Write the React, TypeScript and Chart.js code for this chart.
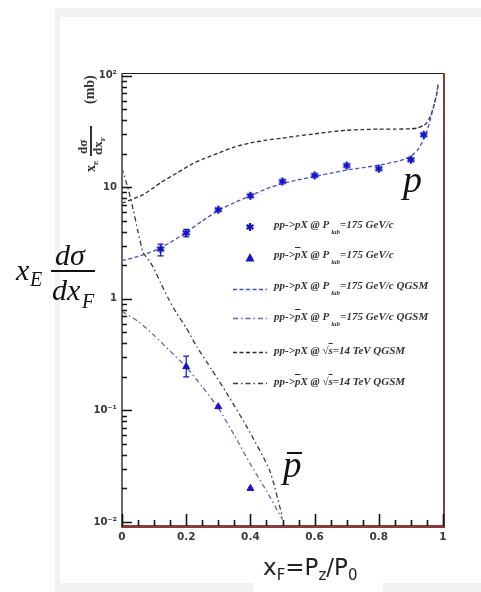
import React, { useEffect, useRef } from 'react';
import { Chart, registerables } from 'chart.js';

Chart.register(...registerables);

// ---------------- data ----------------
// pp -> pX @ Plab = 175 GeV/c (stars)
const starX = [0.12, 0.2, 0.3, 0.4, 0.5, 0.6, 0.7, 0.8, 0.9, 0.94];
const starY = [2.8, 3.9, 6.3, 8.4, 11.3, 12.8, 15.7, 14.7, 17.7, 29.6];
const starErrLo = [2.43, 3.6, null, null, null, null, null, null, null, null];
const starErrHi = [3.1, 4.2, null, null, null, null, null, null, null, null];

// pp -> pbar X @ Plab = 175 GeV/c (triangles)
const triX = [0.2, 0.3, 0.4];
const triY = [0.247, 0.108, 0.02];
const triErrLo = [0.2, null, null];
const triErrHi = [0.307, null, null];

// QGSM pp -> pX @ 175 GeV/c
const pQgsm175X = [0, 0.05, 0.1, 0.15, 0.2, 0.25, 0.3, 0.35, 0.4, 0.45, 0.5, 0.55, 0.6, 0.65, 0.7, 0.75, 0.8, 0.85, 0.88, 0.9, 0.92, 0.94, 0.95, 0.96, 0.97, 0.98, 0.985];
const pQgsm175Y = [2.2, 2.4, 2.7, 3.2, 3.95, 5.0, 6.2, 7.3, 8.4, 9.7, 10.8, 11.7, 12.5, 13.4, 14.3, 15.0, 15.8, 16.9, 17.9, 19.0, 21.5, 27, 32, 40, 52, 68, 85];

// QGSM pp -> pbar X @ 175 GeV/c
const pbarQgsm175X = [0, 0.05, 0.1, 0.15, 0.2, 0.25, 0.3, 0.35, 0.4, 0.45, 0.5];
const pbarQgsm175Y = [0.77, 0.63, 0.47, 0.34, 0.245, 0.163, 0.105, 0.06, 0.033, 0.019, 0.0105];

// QGSM pp -> pX @ sqrt(s) = 14 TeV
const pQgsm14X = [0, 0.03, 0.066, 0.1, 0.12, 0.17, 0.22, 0.25, 0.3, 0.35, 0.4, 0.45, 0.5, 0.55, 0.6, 0.65, 0.7, 0.75, 0.8, 0.85, 0.9, 0.92, 0.94, 0.95, 0.96, 0.97, 0.98, 0.985];
const pQgsm14Y = [7.2, 7.8, 8.6, 10, 11, 13.4, 16.3, 17.8, 20.3, 23, 25, 26.5, 27.6, 29, 30.2, 31.5, 32.5, 33, 33.3, 33.3, 33.5, 34, 36, 38, 43, 52, 68, 85];

// QGSM pp -> pbar X @ sqrt(s) = 14 TeV
const pbarQgsm14X = [0, 0.02, 0.035, 0.05, 0.066, 0.085, 0.1, 0.12, 0.145, 0.17, 0.2, 0.233, 0.28, 0.326, 0.388, 0.46, 0.5];
const pbarQgsm14Y = [14.9, 9.5, 6.3, 4.0, 2.6, 2.2, 1.85, 1.4, 1.0, 0.745, 0.55, 0.373, 0.231, 0.143, 0.072, 0.029, 0.011];

// axes
const xTickLabels = ['0', '0.2', '0.4', '0.6', '0.8', '1'];
const xMinorTicks = [0, 0.05, 0.1, 0.15, 0.2, 0.25, 0.3, 0.35, 0.4, 0.45, 0.5, 0.55, 0.6, 0.65, 0.7, 0.75, 0.8, 0.85, 0.9, 0.95, 1];
const yDecades = [0.01, 0.1, 1, 10, 100];
const yDecadeLabels = ['10⁻²', '10⁻¹', '1', '10', '10²'];
const yMantissas = [1, 2, 3, 4, 5, 6, 7, 8, 9];
const yMin = 0.0092;
const yMax = 106;

const BLUE_MARK = '#1414c8';
const BLUE_LINE = '#4c4cc8';
const BLUE_DD = '#6464b4';
const BLACK_LINE = '#2e2e2e';
const BLACK_DD = '#3c3c3c';
const TICK = '#111111';

const pts = (xs: number[], ys: number[]) => xs.map((x, i) => ({ x, y: ys[i] }));

function makeStar(): HTMLCanvasElement {
  const c = document.createElement('canvas');
  c.width = 10;
  c.height = 10;
  const g = c.getContext('2d')!;
  g.strokeStyle = BLUE_MARK;
  g.lineWidth = 2.2;
  const r = 4;
  [90, 30, 150].forEach((deg) => {
    const a = (deg * Math.PI) / 180;
    g.beginPath();
    g.moveTo(5 - r * Math.cos(a), 5 - r * Math.sin(a));
    g.lineTo(5 + r * Math.cos(a), 5 + r * Math.sin(a));
    g.stroke();
  });
  return c;
}

const legendKinds = ['star', 'triangle', 'blueDash', 'blueDashDot', 'blackDash', 'blackDashDot'];
const legendRowY = [227, 258, 289, 318, 352, 383];

export default function App() {
  const ref = useRef<HTMLCanvasElement>(null);

  useEffect(() => {
    const star = makeStar();

    const errorBars = {
      id: 'errorBars',
      afterDatasetsDraw(chart: any) {
        const ctx: CanvasRenderingContext2D = chart.ctx;
        const xs = chart.scales.x;
        const ys = chart.scales.y;
        chart.data.datasets.forEach((ds: any) => {
          if (!ds.errLo) return;
          ctx.save();
          ctx.setLineDash([]);
          ctx.strokeStyle = BLUE_MARK;
          ctx.lineWidth = 1.2;
          ds.data.forEach((p: any, i: number) => {
            const lo = ds.errLo[i];
            const hi = ds.errHi[i];
            if (lo == null || hi == null) return;
            const px = xs.getPixelForValue(p.x);
            const y1 = ys.getPixelForValue(lo);
            const y2 = ys.getPixelForValue(hi);
            ctx.beginPath();
            ctx.moveTo(px, y1);
            ctx.lineTo(px, y2);
            ctx.moveTo(px - 3, y1);
            ctx.lineTo(px + 3, y1);
            ctx.moveTo(px - 3, y2);
            ctx.lineTo(px + 3, y2);
            ctx.stroke();
          });
          ctx.restore();
        });
      },
    };

    const frame = {
      id: 'frame',
      afterDraw(chart: any) {
        const ctx: CanvasRenderingContext2D = chart.ctx;
        const a = chart.chartArea;
        const xs = chart.scales.x;
        const ys = chart.scales.y;
        ctx.save();
        ctx.setLineDash([]);
        // borders
        ctx.fillStyle = '#222';
        ctx.fillRect(a.left, a.top, a.right - a.left + 2, 1);
        ctx.fillStyle = '#6a6a6a';
        ctx.fillRect(a.left - 1, a.top, 2, a.bottom - a.top);
        ctx.fillStyle = '#8a3c3c';
        ctx.fillRect(a.right, a.top, 2, a.bottom - a.top);
        ctx.fillRect(a.left - 1, a.bottom - 1, a.right - a.left + 3, 3);

        // inward ticks
        ctx.strokeStyle = TICK;
        ctx.lineWidth = 1.6;
        ctx.beginPath();
        xMinorTicks.forEach((v, i) => {
          const px = Math.round(xs.getPixelForValue(v)) + 0.5;
          const len = i % 4 === 0 ? 12 : 6;
          ctx.moveTo(px, a.bottom);
          ctx.lineTo(px, a.bottom - len);
        });
        yDecades.forEach((d) => {
          yMantissas.forEach((k) => {
            const v = k * d;
            if (v < yMin || v > yMax) return;
            const py = Math.round(ys.getPixelForValue(v)) + 0.5;
            ctx.moveTo(a.left, py);
            ctx.lineTo(a.left + (k === 1 ? 10 : 5), py);
          });
        });
        ctx.stroke();

        // legend samples
        legendKinds.forEach((kind, i) => {
          const y = legendRowY[i];
          const x0 = 233;
          const x1 = 267;
          if (kind === 'star') {
            ctx.drawImage(star, 250 - 5, y - 5);
          } else if (kind === 'triangle') {
            ctx.fillStyle = BLUE_MARK;
            ctx.beginPath();
            ctx.moveTo(250, y - 5);
            ctx.lineTo(254.5, y + 3.5);
            ctx.lineTo(245.5, y + 3.5);
            ctx.closePath();
            ctx.fill();
          } else {
            const dotted = kind.endsWith('DashDot');
            const blue = kind.startsWith('blue');
            ctx.strokeStyle = blue ? (dotted ? BLUE_DD : BLUE_LINE) : dotted ? BLACK_DD : BLACK_LINE;
            ctx.lineWidth = 1.3;
            ctx.setLineDash(dotted ? [5, 3, 1.5, 3] : [4, 2.5]);
            ctx.beginPath();
            ctx.moveTo(x0, y + 0.5);
            ctx.lineTo(x1, y + 0.5);
            ctx.stroke();
            ctx.setLineDash([]);
          }
        });
        ctx.restore();
      },
    };

    const lineDs = (xs: number[], ys: number[], color: string, dash: number[]) => ({
      data: pts(xs, ys),
      showLine: true,
      borderColor: color,
      backgroundColor: color,
      borderWidth: 1.3,
      borderDash: dash,
      pointRadius: 0,
      pointHoverRadius: 0,
      fill: false,
      tension: 0.2,
    });

    const chart = new Chart(ref.current!, {
      type: 'scatter',
      data: {
        datasets: [
          {
            data: pts(starX, starY),
            pointStyle: star as any,
            pointRadius: 4,
            showLine: false,
            errLo: starErrLo,
            errHi: starErrHi,
          } as any,
          {
            data: pts(triX, triY),
            pointStyle: 'triangle',
            pointRadius: 4,
            backgroundColor: BLUE_MARK,
            borderColor: BLUE_MARK,
            borderWidth: 1,
            showLine: false,
            errLo: triErrLo,
            errHi: triErrHi,
          } as any,
          lineDs(pQgsm175X, pQgsm175Y, BLUE_LINE, [4, 2.5]),
          lineDs(pbarQgsm175X, pbarQgsm175Y, BLUE_DD, [5, 3, 1.5, 3]),
          lineDs(pQgsm14X, pQgsm14Y, BLACK_LINE, [4, 2.5]),
          lineDs(pbarQgsm14X, pbarQgsm14Y, BLACK_DD, [5, 3, 1.5, 3]),
        ],
      },
      options: {
        responsive: false,
        animation: false,
        layout: { padding: { left: 0, right: 38, top: 73, bottom: 46 } },
        plugins: { legend: { display: false }, tooltip: { enabled: false } },
        scales: {
          x: {
            type: 'linear',
            min: 0,
            max: 1,
            grid: { display: false },
            border: { display: false },
            ticks: {
              stepSize: 0.2,
              autoSkip: false,
              maxRotation: 0,
              padding: -3,
              color: '#3a3a3a',
              font: { family: '"DejaVu Sans"', size: 10.5, weight: 'bold' },
              callback: (_v: any, i: number) => xTickLabels[i] ?? '',
            },
            afterFit: (s: any) => {
              s.height = 20;
            },
          },
          y: {
            type: 'logarithmic',
            min: yMin,
            max: yMax,
            grid: { display: false },
            border: { display: false },
            ticks: {
              autoSkip: false,
              padding: -3,
              color: '#3a3a3a',
              font: { family: '"DejaVu Sans"', size: 10, weight: 'bold' },
              callback: (v: any) => {
                const idx = yDecades.findIndex((d) => Math.abs(Math.log10(Number(v)) - Math.log10(d)) < 1e-6);
                return idx >= 0 ? yDecadeLabels[idx] : '';
              },
            },
            afterFit: (s: any) => {
              s.width = 122;
            },
          },
        },
      } as any,
      plugins: [errorBars, frame],
    });
    return () => chart.destroy();
  }, []);

  const serif = '"Liberation Serif", "DejaVu Serif", serif';
  const legendText: React.CSSProperties = {
    position: 'absolute',
    left: 274,
    fontFamily: serif,
    fontStyle: 'italic',
    fontWeight: 'bold',
    fontSize: 11,
    lineHeight: '12px',
    color: '#333',
    whiteSpace: 'nowrap',
  };
  const Sub = ({ children }: { children: React.ReactNode }) => (
    <span style={{ fontSize: 7, position: 'relative', top: 6, marginLeft: 2 }}>{children}</span>
  );
  const Ov = ({ children }: { children: React.ReactNode }) => (
    <span style={{ textDecoration: 'overline' }}>{children}</span>
  );
  const big: React.CSSProperties = {
    position: 'absolute',
    fontFamily: serif,
    fontStyle: 'italic',
    color: '#111',
    lineHeight: 1,
    whiteSpace: 'nowrap',
  };

  return (
    <div style={{ position: 'absolute', left: 0, top: 0, width: 481, height: 592, overflow: 'hidden', background: '#fff' }}>
      <div style={{ position: 'absolute', left: 55, top: 8, width: 426, height: 584, background: '#f1f1f1' }} />
      <div style={{ position: 'absolute', left: 60, top: 17, width: 421, height: 566, background: '#fff' }} />
      <div style={{ position: 'absolute', left: 253, top: 575, width: 130, height: 17, background: '#fff' }} />
      <canvas ref={ref} width={481} height={592} style={{ position: 'absolute', left: 0, top: 0, width: 481, height: 592 }} />

      {/* rotated y-axis title */}
      <div
        style={{
          position: 'absolute',
          left: 78,
          top: 172,
          width: 100,
          height: 26,
          transform: 'rotate(-90deg)',
          transformOrigin: 'top left',
          fontFamily: serif,
          fontWeight: 'bold',
          color: '#333',
        }}
      >
        <span style={{ position: 'absolute', left: 0, top: 6, fontSize: 14, lineHeight: '14px' }}>
          x<span style={{ fontSize: 7, position: 'relative', top: 3 }}>E</span>
        </span>
        <span style={{ position: 'absolute', left: 18, top: -1, fontSize: 13, lineHeight: '12px' }}>dσ</span>
        <span style={{ position: 'absolute', left: 16, top: 12, width: 30, height: 1.5, background: '#333' }} />
        <span style={{ position: 'absolute', left: 17, top: 13, fontSize: 13, lineHeight: '13px' }}>
          dx<span style={{ fontSize: 7, position: 'relative', top: 3 }}>F</span>
        </span>
        <span style={{ position: 'absolute', left: 68, top: 4, fontSize: 14, lineHeight: '16px' }}>(mb)</span>
      </div>

      {/* big left label */}
      <span style={{ ...big, left: 16, top: 255, fontSize: 30 }}>x</span>
      <span style={{ ...big, left: 30, top: 269, fontSize: 20 }}>E</span>
      <span style={{ ...big, left: 55, top: 240, fontSize: 30 }}>dσ</span>
      <span style={{ position: 'absolute', left: 51, top: 270, width: 44, height: 1.5, background: '#111' }} />
      <span style={{ ...big, left: 52, top: 275, fontSize: 30 }}>dx</span>
      <span style={{ ...big, left: 82, top: 291, fontSize: 20 }}>F</span>

      {/* p and pbar labels */}
      <span style={{ ...big, left: 403, top: 160, fontSize: 38 }}>p</span>
      <span style={{ ...big, left: 283, top: 446, fontSize: 37 }}>p</span>
      <span style={{ position: 'absolute', left: 287, top: 452, width: 15, height: 2, background: '#111' }} />

      {/* legend texts */}
      <div style={{ ...legendText, top: 218 }}>
        pp-&gt;pX @ P<Sub>lab</Sub>=175 GeV/c
      </div>
      <div style={{ ...legendText, top: 248 }}>
        pp-&gt;<Ov>p</Ov>X @ P<Sub>lab</Sub>=175 GeV/c
      </div>
      <div style={{ ...legendText, top: 279 }}>
        pp-&gt;pX @ P<Sub>lab</Sub>=175 GeV/c QGSM
      </div>
      <div style={{ ...legendText, top: 310 }}>
        pp-&gt;<Ov>p</Ov>X @ P<Sub>lab</Sub>=175 GeV/c QGSM
      </div>
      <div style={{ ...legendText, top: 344 }}>
        pp-&gt;pX @ √<Ov>s</Ov>=14 TeV QGSM
      </div>
      <div style={{ ...legendText, top: 375 }}>
        pp-&gt;<Ov>p</Ov>X @ √<Ov>s</Ov>=14 TeV QGSM
      </div>

      {/* x-axis title */}
      <div
        style={{
          position: 'absolute',
          left: 263,
          top: 556,
          fontFamily: '"DejaVu Sans", sans-serif',
          fontSize: 23,
          lineHeight: 1,
          color: '#222',
          whiteSpace: 'nowrap',
        }}
      >
        x<span style={{ fontSize: 15, position: 'relative', top: 5 }}>F</span>=P
        <span style={{ fontSize: 15, position: 'relative', top: 5 }}>z</span>/P
        <span style={{ fontSize: 15, position: 'relative', top: 5 }}>0</span>
      </div>
    </div>
  );
}
